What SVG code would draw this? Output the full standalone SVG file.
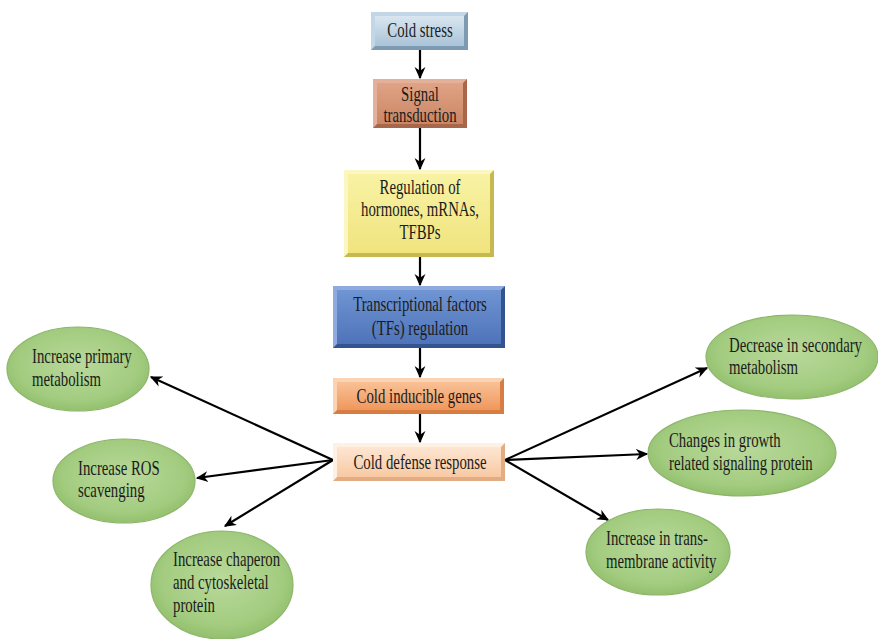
<svg xmlns="http://www.w3.org/2000/svg" width="878" height="639" viewBox="0 0 878 639">
<defs>
<style>
.t{font-family:"Liberation Serif","Times New Roman",serif;font-size:20px;fill:#1b1b1b}
.c{text-anchor:middle}
.ell{fill:url(#gEll);stroke:#8cb56a;stroke-width:1.2}
.ln{fill:none;stroke:#000;stroke-width:2.2;marker-end:url(#ah)}
</style>
<linearGradient id="gBlue" x1="0" y1="0" x2="0" y2="1"><stop offset="0" stop-color="#d9e6f0"/><stop offset="1" stop-color="#aac3d7"/></linearGradient>
<linearGradient id="gBrown" x1="0" y1="0" x2="0" y2="1"><stop offset="0" stop-color="#dfa385"/><stop offset="1" stop-color="#cb8665"/></linearGradient>
<linearGradient id="gYel" x1="0" y1="0" x2="0" y2="1"><stop offset="0" stop-color="#f8f2a4"/><stop offset="1" stop-color="#f0e47e"/></linearGradient>
<linearGradient id="gDBlue" x1="0" y1="0" x2="0" y2="1"><stop offset="0" stop-color="#7095d4"/><stop offset="1" stop-color="#4e73b9"/></linearGradient>
<linearGradient id="gOr" x1="0" y1="0" x2="0" y2="1"><stop offset="0" stop-color="#f8c197"/><stop offset="1" stop-color="#f0975c"/></linearGradient>
<linearGradient id="gPeach" x1="0" y1="0" x2="0" y2="1"><stop offset="0" stop-color="#fde6d2"/><stop offset="1" stop-color="#f8c9a2"/></linearGradient>
<radialGradient id="gEll" cx="0.5" cy="0.45" r="0.6"><stop offset="0" stop-color="#b9d99a"/><stop offset="0.7" stop-color="#a3cc80"/><stop offset="1" stop-color="#8dbb66"/></radialGradient>
<marker id="ah" viewBox="0 0 10 10" refX="9" refY="5" markerWidth="5.5" markerHeight="5.5" orient="auto" markerUnits="strokeWidth">
<path d="M0,0.5 L10,5 L0,9.5 L3,5 z" fill="#000"/>
</marker>
</defs>
<rect width="878" height="639" fill="#fff"/>

<g id="connectors">
<line class="ln" x1="420" y1="50" x2="420" y2="78"/>
<line class="ln" x1="420" y1="128" x2="420" y2="169"/>
<line class="ln" x1="420" y1="257" x2="420" y2="285"/>
<line class="ln" x1="420" y1="348" x2="420" y2="377"/>
<line class="ln" x1="420" y1="414" x2="420" y2="442"/>
<line class="ln" x1="333" y1="460" x2="151" y2="377"/>
<line class="ln" x1="333" y1="460" x2="197" y2="478"/>
<line class="ln" x1="333" y1="460" x2="225" y2="526"/>
<line class="ln" x1="505" y1="460" x2="707" y2="368"/>
<line class="ln" x1="505" y1="460" x2="647" y2="454"/>
<line class="ln" x1="505" y1="460" x2="608" y2="520"/>
</g>

<g id="cold-stress">
<rect x="371" y="12" width="97" height="38" fill="#7c9ab2"/>
<polygon points="371,12 468,12 464,16 375,16 375,46 371,50" fill="#c3d6e5"/>
<rect x="375" y="16" width="89" height="30" fill="url(#gBlue)"/>
<text class="t c" transform="translate(420 37) scale(0.74 1)">Cold stress</text>
</g>

<g id="signal-transduction">
<rect x="373" y="79" width="94" height="49" fill="#a8674a"/>
<polygon points="373,79 467,79 463,83 377,83 377,124 373,128" fill="#e3b09a"/>
<rect x="377" y="83" width="86" height="41" fill="url(#gBrown)"/>
<text class="t c" transform="translate(420 101) scale(0.74 1)"><tspan x="0" y="0">Signal</tspan><tspan x="0" y="21">transduction</tspan></text>
</g>

<g id="regulation">
<rect x="344" y="170" width="150" height="87" fill="#c8b850"/>
<polygon points="344,170 494,170 490,174 348,174 348,253 344,257" fill="#fbf6c2"/>
<rect x="348" y="174" width="142" height="79" fill="url(#gYel)"/>
<text class="t c" transform="translate(420 194) scale(0.74 1)"><tspan x="0" y="0">Regulation of</tspan><tspan x="0" y="22">hormones, mRNAs,</tspan><tspan x="0" y="45">TFBPs</tspan></text>
</g>

<g id="transcriptional-factors">
<rect x="333" y="286" width="172" height="62" fill="#34548f"/>
<polygon points="333,286 505,286 501,290 337,290 337,344 333,348" fill="#8eaade"/>
<rect x="337" y="290" width="164" height="54" fill="url(#gDBlue)"/>
<text class="t c" transform="translate(420 311) scale(0.74 1)" fill="#111a2a"><tspan x="0" y="0">Transcriptional  factors</tspan><tspan x="0" y="24">(TFs) regulation</tspan></text>
</g>

<g id="cold-inducible-genes">
<rect x="333" y="378" width="171" height="36" fill="#d77d42"/>
<polygon points="333,378 504,378 500,382 337,382 337,410 333,414" fill="#fbd2b2"/>
<rect x="337" y="382" width="163" height="28" fill="url(#gOr)"/>
<text class="t c" transform="translate(419 403) scale(0.74 1)">Cold inducible genes</text>
</g>

<g id="cold-defense-response">
<rect x="333" y="443" width="172" height="38" fill="#e3ad84"/>
<polygon points="333,443 505,443 501,447 337,447 337,477 333,481" fill="#fff0e4"/>
<rect x="337" y="447" width="164" height="30" fill="url(#gPeach)"/>
<text class="t c" transform="translate(420 469) scale(0.74 1)">Cold defense response</text>
</g>

<g id="increase-primary-metabolism">
<ellipse class="ell" cx="78" cy="369" rx="71" ry="42"/>
<text class="t" transform="translate(32 363) scale(0.74 1)"><tspan x="0" y="0">Increase  primary</tspan><tspan x="0" y="23">metabolism</tspan></text>
</g>

<g id="increase-ros-scavenging">
<ellipse class="ell" cx="124" cy="481" rx="71" ry="42"/>
<text class="t" transform="translate(78 475) scale(0.74 1)"><tspan x="0" y="0">Increase  ROS</tspan><tspan x="0" y="22">scavenging</tspan></text>
</g>

<g id="increase-chaperon">
<ellipse class="ell" cx="222" cy="585" rx="71" ry="54"/>
<text class="t" transform="translate(173 566) scale(0.74 1)"><tspan x="0" y="0">Increase  chaperon</tspan><tspan x="0" y="23">and cytoskeletal</tspan><tspan x="0" y="46">protein</tspan></text>
</g>

<g id="decrease-secondary-metabolism">
<ellipse class="ell" cx="792" cy="357" rx="86" ry="42"/>
<text class="t" transform="translate(729 352) scale(0.74 1)"><tspan x="0" y="0">Decrease  in secondary</tspan><tspan x="0" y="22">metabolism</tspan></text>
</g>

<g id="changes-growth-signaling">
<ellipse class="ell" cx="742" cy="453" rx="94" ry="43"/>
<text class="t" transform="translate(669 447) scale(0.74 1)"><tspan x="0" y="0">Changes  in growth</tspan><tspan x="0" y="23">related  signaling protein</tspan></text>
</g>

<g id="increase-transmembrane">
<ellipse class="ell" cx="658" cy="552" rx="72" ry="43"/>
<text class="t" transform="translate(606 545) scale(0.74 1)"><tspan x="0" y="0">Increase  in trans-</tspan><tspan x="0" y="23">membrane  activity</tspan></text>
</g>
</svg>
